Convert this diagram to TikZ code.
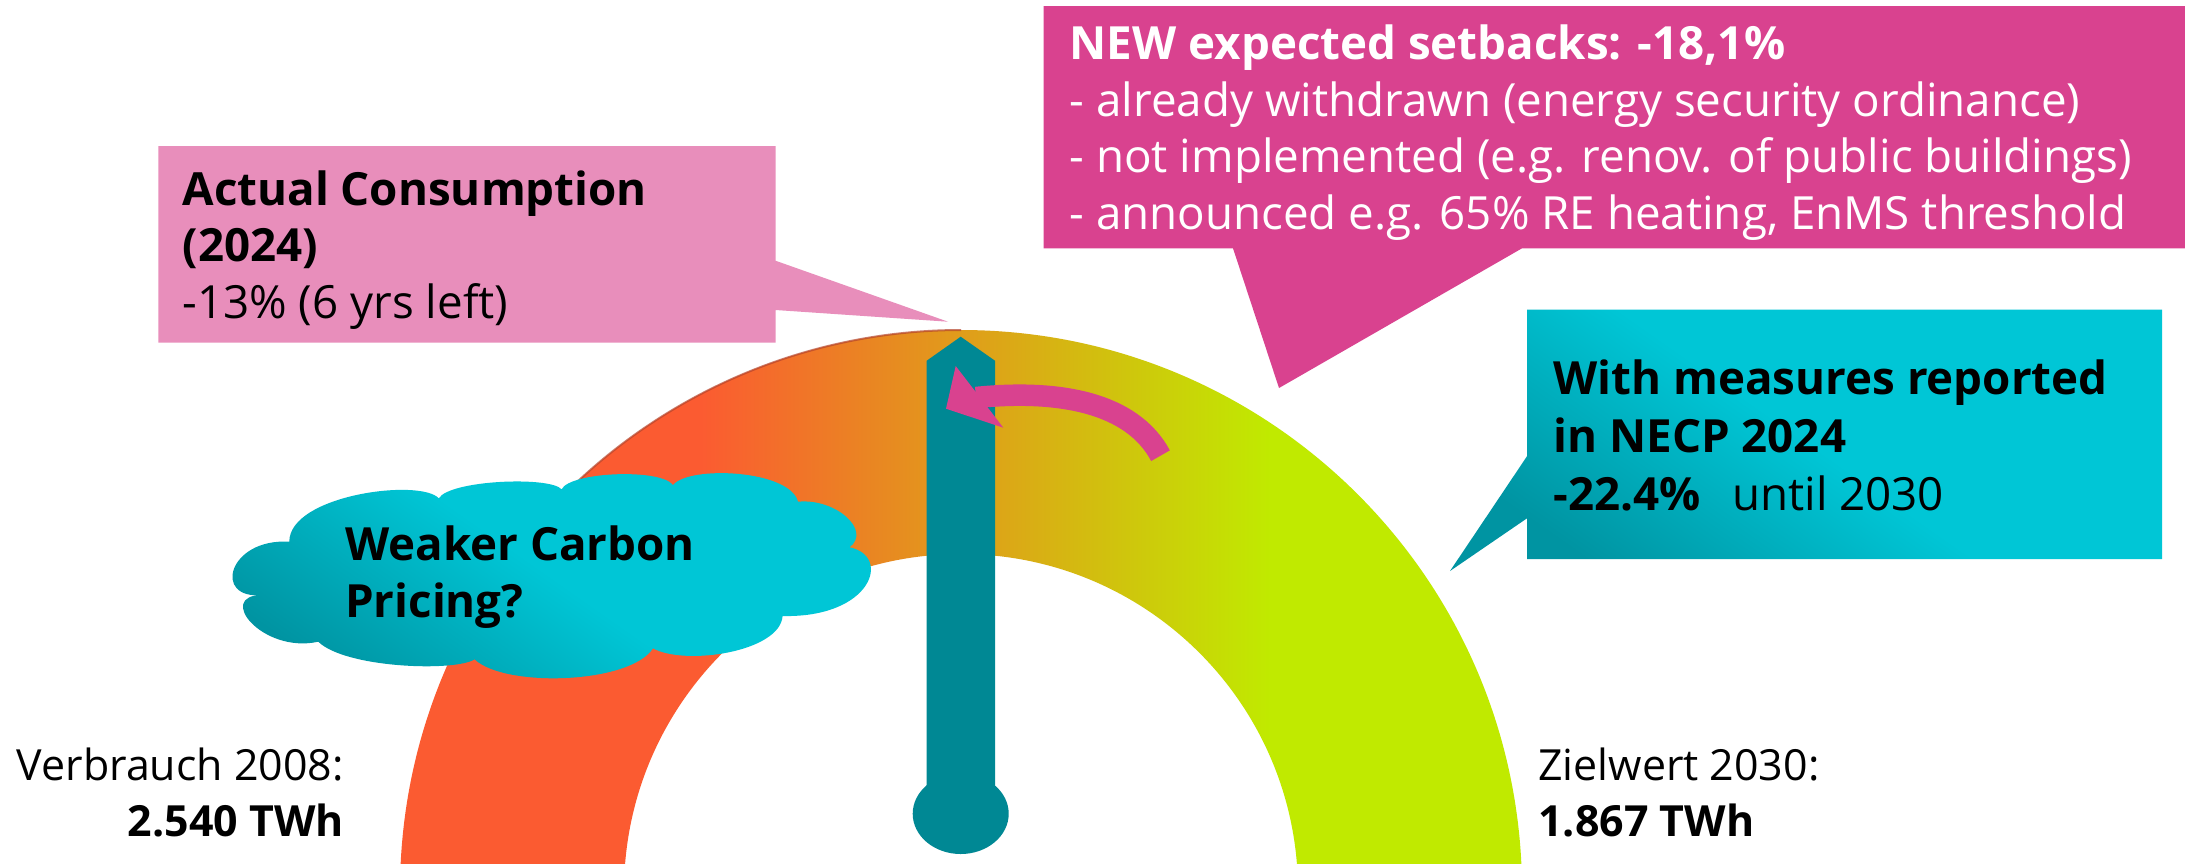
\documentclass[tikz,border=0pt]{standalone}
\usepackage{fontspec}
\setmainfont{Open Sans}
\usetikzlibrary{positioning}
\definecolor{gaugered}{HTML}{FB5B31}
\definecolor{gaugelime}{HTML}{C0EA00}
\definecolor{gaugeedge}{HTML}{B5452C}
\definecolor{needleteal}{HTML}{008894}
\definecolor{setbackpink}{HTML}{D9428F}
\definecolor{actualpink}{HTML}{E88EBB}
\definecolor{brightcyan}{HTML}{00C6D6}
\definecolor{deepteal}{HTML}{0094A2}
\pgfdeclarehorizontalshading{gaugeshade}{100bp}{color(0bp)=(gaugered); color(38.4bp)=(gaugered); color(63.8bp)=(gaugelime); color(100bp)=(gaugelime)}

\begin{document}
\begin{tikzpicture}[
  x=0.01cm, y=-0.01cm,
  tealfill/.style={top color=brightcyan, bottom color=deepteal, middle color=brightcyan, shading angle=-35},
  bigtext/.style={anchor=base west, align=left, inner sep=0pt, font=\fontsize{13pt}{16.08pt}\selectfont},
  valtext/.style={inner sep=0pt, font=\fontsize{12.2pt}{15.82pt}\selectfont}
]
\useasboundingbox (0,0) rectangle (2185,863);
\fill[white] (0,0) rectangle (2185,863);
\clip (0,0) rectangle (2185,863);
% gauge
\shade[shading=gaugeshade] (400,891) arc[start angle=180, end angle=360, radius=561]
  -- (1298,891) arc[start angle=360, end angle=180, radius=337] -- cycle;
\draw[gaugeedge, opacity=0.7, line width=0.02cm] (531.25,530.4) arc[start angle=220, end angle=270, radius=561];
% needle
\fill[needleteal] (926.7,790) -- (926.7,360.7) -- (960.7,336.7) -- (995,360.7) -- (995,790) -- cycle;
\fill[needleteal] (960.7,813.7) ellipse[x radius=48, y radius=40.3];
% curved arrow
\fill[setbackpink] (955.7,366) -- (946,408.7) -- (1003.3,427.7) -- cycle;
\draw[setbackpink, line width=0.215cm] (1160.5,455.7) .. controls (1132.3,402.9) and (1060,389) .. (976,397.5);
% callouts
\coordinate (actualtip) at (948,321.7);
\coordinate (setbacktip) at (1279,388);
\coordinate (necptip) at (1450,571);
\fill[actualpink] (158.3,146) -- (775.5,146) -- (775.5,260.7) -- (actualtip)
  -- (775.5,310) -- (775.5,342.7) -- (158.3,342.7) -- cycle;
\fill[setbackpink] (1043.6,6) -- (2190,6) -- (2190,248.3) -- (1522,248.3) -- (setbacktip)
  -- (1233,248.3) -- (1043.6,248.3) -- cycle;
\shade[tealfill] (1527,309.7) -- (2162,309.7) -- (2162,559.2) -- (1527,559.2)
  -- (1527,518.3) -- (necptip) -- (1527,456.2) -- cycle;
% cloud
\shade[tealfill] (438.8,498.3)
  .. controls (450,480) and (550,476) .. (561.6,489.3)
  .. controls (570,472) and (660,468) .. (673,485)
  .. controls (690,465) and (790,470) .. (798,501.7)
  .. controls (835,498) and (872,530) .. (849.6,547.3)
  .. controls (892,556) and (872,618) .. (782.6,616)
  .. controls (780,652) and (685,666) .. (653,648.3)
  .. controls (630,684) and (505,688) .. (474.6,659.3)
  .. controls (455,672) and (345,668) .. (318.3,641.7)
  .. controls (262,654) and (215,595) .. (262.5,595)
  .. controls (212,600) and (228,538) .. (289.3,541.7)
  .. controls (289.3,495) and (420,478) .. (438.8,498.3) -- cycle;

% texts
\node[bigtext, text=white] (setbacktext) at (1069,229.3) {\textbf{NEW expected setbacks: -18,1\%}\\
  - already withdrawn (energy security ordinance)\\
  - not implemented (e.g. renov. of public buildings)\\
  - announced e.g. 65\% RE heating, EnMS threshold};
\node[bigtext] (actualtext) at (181.8,318.3) {\textbf{Actual Consumption}\\\textbf{(2024)}\\-13\% (6 yrs left)};
\node[bigtext, font=\fontsize{13pt}{16.36pt}\selectfont] (necptext) at (1552.7,510)
  {\textbf{With measures reported}\\\textbf{in NECP 2024}\\\textbf{-22.4\%}\hspace{9pt}until 2030};
\node[bigtext, font=\fontsize{13pt}{16.36pt}\selectfont] (cloudtext) at (344.4,617.8) {\textbf{Weaker Carbon}\\\textbf{Pricing?}};
\node[valtext, anchor=base east, align=right] (starttext) at (344.4,836) {Verbrauch 2008:\\\textbf{2.540 TWh}};
\node[valtext, anchor=base west, align=left] (targettext) at (1537.7,836) {Zielwert 2030:\\\textbf{1.867 TWh}};
\end{tikzpicture}
\end{document}
